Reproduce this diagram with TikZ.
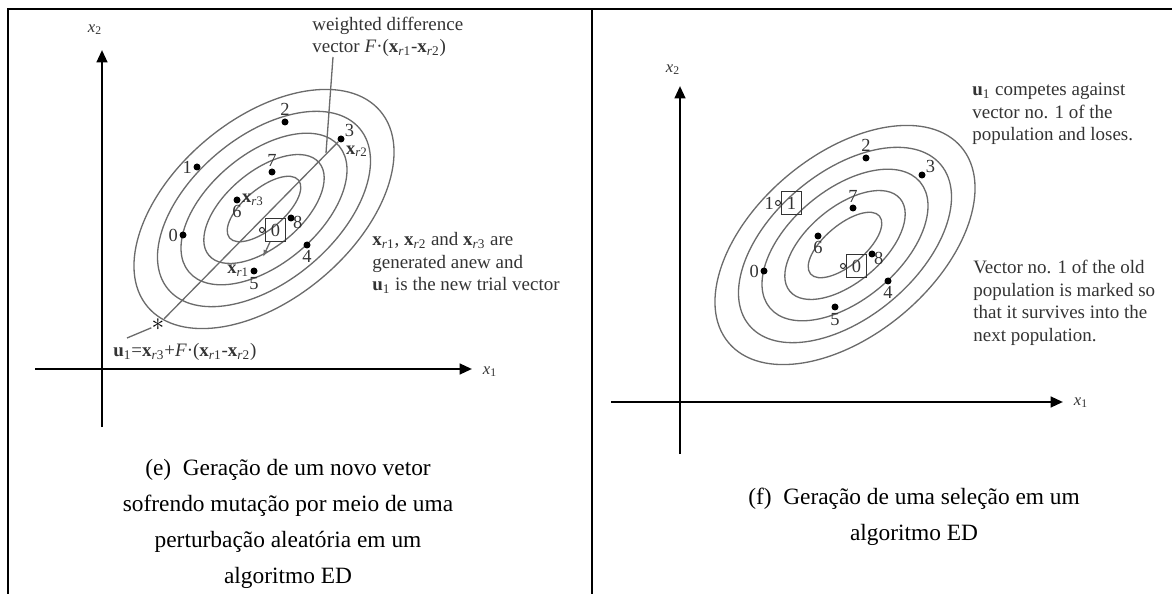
\documentclass[tikz,border=0pt]{standalone}
\usepackage{fontspec}
\setmainfont{Liberation Serif}
\usepackage{tikz}
\usetikzlibrary{arrows.meta,positioning}
\definecolor{inkgray}{gray}{0.2}
\definecolor{curvegray}{gray}{0.42}
\newcommand{\xr}[1]{\textbf{x}\textsubscript{\textit{r}#1}}
\newcommand{\uone}{\textbf{u}\textsubscript{1}}
\tikzset{
  de frame/.style={line width=1.6pt, draw=black},
  de axis/.style={line width=1.4pt, draw=black, -{Triangle[length=7pt,width=6pt]}},
  de contour/.style={draw=curvegray, line width=0.75pt},
  de vec/.style={draw=curvegray, line width=0.75pt},
  de dot/.style={circle, fill=black, inner sep=0pt, minimum size=0.14cm},
  de hollow/.style={circle, draw=inkgray, line width=0.6pt, inner sep=0pt, minimum size=0.1cm},
  de box/.style={rectangle, draw=inkgray, line width=0.6pt, inner sep=0pt,
    minimum width=0.4cm, minimum height=0.46cm, text=inkgray, font=\fontsize{10.5}{12}\selectfont},
  de num/.style={text=inkgray, inner sep=0.5pt, font=\fontsize{10.5}{12}\selectfont},
  de axlabel/.style={text=inkgray, inner sep=0pt, font=\fontsize{9.5}{11}\selectfont},
  de note/.style={text=inkgray, inner sep=0pt, align=left, font=\fontsize{10.8}{12.8}\selectfont},
  de star/.style={inner sep=0pt, font=\fontsize{15}{15}\selectfont\bfseries},
  de caption/.style={inner sep=0pt, align=center, font=\fontsize{13.3}{20.5}\selectfont},
}
\begin{document}
\begin{tikzpicture}[x=0.02cm,y=-0.02cm]
\useasboundingbox (0,0) rectangle (1176,594);
% table rules
\draw[de frame] (8,594) -- (8,9) -- (1172,9);
\draw[de frame] (592,9) -- (592,594);

% ---- panel (e): mutation
\begin{scope}
  \coordinate (e-o) at (264,209);
  \foreach \ra/\rb in {45/20,72/37.5,98/55,125/72.5,152/90}
    \draw[de contour,rotate around={40:(e-o)}] (e-o) ellipse [x radius=\ra, y radius=\rb];
  % axes
  \coordinate (e-x2b) at (102,427);
  \coordinate (e-x2t) at (102,50);
  \coordinate (e-x1a) at (35,369);
  \coordinate (e-x1t) at (472,369);
  \draw[de axis] (e-x2b) -- (e-x2t);
  \draw[de axis] (e-x1a) -- (e-x1t);
  \node[de axlabel] (e-x2) at (95,30) {\textit{x}\textsubscript{2}};
  \node[de axlabel] (e-x1) at (490,372) {\textit{x}\textsubscript{1}};
  % population
  \node[de dot] (e0) at (183,235) {};
  \node[de dot] (e1) at (197,167) {};
  \node[de dot] (e2) at (285,122) {};
  \node[de dot] (e3) at (341,139) {};
  \node[de dot] (e4) at (307,245) {};
  \node[de dot] (e5) at (254,271) {};
  \node[de dot] (e6) at (237,200) {};
  \node[de dot] (e7) at (272,172) {};
  \node[de dot] (e8) at (291,218) {};
  \node[de hollow] (e9) at (262,230) {};
  \node[de box,right=0pt of e9] (e9b) {0};
  \node[de num,left=0pt of e0] {0};
  \node[de num,left=0pt of e1] {1};
  \node[de num,above=1pt of e2] {2};
  \node[de num,above right=-1pt and 0pt of e3] {3};
  \node[de num,below=0pt of e4] {4};
  \node[de num,below=1pt of e5] {5};
  \node[de num,below=0pt of e6] {6};
  \node[de num,above=0pt of e7] {7};
  \node[de num,below right=-3pt and -1pt of e8] {8};
  \node[de num,right=0pt of e3,yshift=-7pt] {\xr{2}};
  \node[de num,right=0pt of e6] {\xr{3}};
  \node[de num,left=0pt of e5] {\xr{1}};
  % trial vector
  \node[de star] (eu) at (158,325) {$\ast$};
  \coordinate (e-tail) at (127,338);
  \coordinate (e-tip) at (263,257);
  \coordinate (e-wd) at (326,153);
  \coordinate (e-lead) at (333,57);
  \draw[de vec] (e3) -- (eu) -- (e-tail);
  \draw[de vec,-{Latex[length=4pt,width=3pt]}] (e9b) -- (e-tip);
  % notes
  \node[de note,anchor=west] (e-wdnote) at (312,37) {weighted difference\\vector \textit{F}·(\xr{1}-\xr{2})};
  \draw[de vec] (e-lead) -- (e-wd);
  \node[de note,anchor=west] (e-note) at (372,263) {\xr{1}, \xr{2} and \xr{3} are\\generated anew and\\\uone{} is the new trial vector};
  \node[de note,anchor=west] (e-form) at (113,352) {\uone=\xr{3}+\textit{F}·(\xr{1}-\xr{2})};
\end{scope}

% ---- panel (f): selection
\begin{scope}[shift={(581,36)}]
  \coordinate (f-o) at (264,209);
  \foreach \ra/\rb in {45/20,72/37.5,98/55,125/72.5,152/90}
    \draw[de contour,rotate around={40:(f-o)}] (f-o) ellipse [x radius=\ra, y radius=\rb];
  % axes
  \coordinate (f-x2b) at (99,418);
  \coordinate (f-x2t) at (99,50);
  \coordinate (f-x1a) at (30,366);
  \coordinate (f-x1t) at (482,366);
  \draw[de axis] (f-x2b) -- (f-x2t);
  \draw[de axis] (f-x1a) -- (f-x1t);
  \node[de axlabel] (f-x2) at (92,34) {\textit{x}\textsubscript{2}};
  \node[de axlabel] (f-x1) at (500,367) {\textit{x}\textsubscript{1}};
  % population
  \node[de dot] (f0) at (183,235) {};
  \node[de hollow] (f1) at (197,167) {};
  \node[de dot] (f2) at (285,122) {};
  \node[de dot] (f3) at (341,139) {};
  \node[de dot] (f4) at (307,245) {};
  \node[de dot] (f5) at (254,271) {};
  \node[de dot] (f6) at (237,200) {};
  \node[de dot] (f7) at (272,172) {};
  \node[de dot] (f8) at (291,218) {};
  \node[de hollow] (f9) at (262,230) {};
  \node[de box,right=0pt of f9] (f9b) {0};
  \node[de box,right=0pt of f1] (f1b) {1};
  \node[de num,left=0pt of f0] {0};
  \node[de num,left=0pt of f1] {1};
  \node[de num,above=1pt of f2] {2};
  \node[de num,above right=-1pt and 0pt of f3] {3};
  \node[de num,below=0pt of f4] {4};
  \node[de num,below=1pt of f5] {5};
  \node[de num,below=0pt of f6] {6};
  \node[de num,above=0pt of f7] {7};
  \node[de num,below right=-3pt and -1pt of f8] {8};
\end{scope}
\node[de note,anchor=west] (f-note1) at (972,114) {\uone{} competes against\\vector no. 1 of the\\population and loses.};
\node[de note,anchor=west] (f-note2) at (973,303) {Vector no. 1 of the old\\population is marked so\\that it survives into the\\next population.};

% captions
\node[de caption] (e-cap) at (288,524) {(e)\enspace Geração de um novo vetor\\sofrendo mutação por meio de uma\\perturbação aleatória em um\\algoritmo ED};
\node[de caption] (f-cap) at (914,517) {(f)\enspace Geração de uma seleção em um\\algoritmo ED};
\end{tikzpicture}
\end{document}
